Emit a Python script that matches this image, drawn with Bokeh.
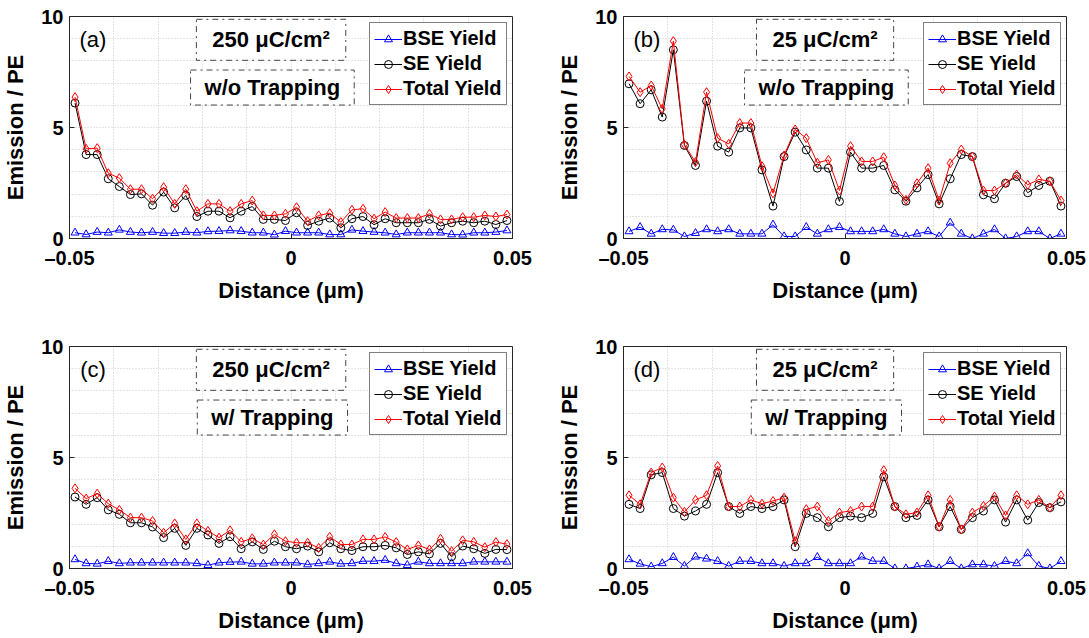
from bokeh.plotting import figure
from bokeh.layouts import gridplot
from bokeh.models import Range1d, FixedTicker, Label, Legend, LegendItem
from bokeh.embed import file_html
from bokeh.resources import INLINE

# ---------------- data ----------------
distance = [-0.04875, -0.04625, -0.04375, -0.04125, -0.03875, -0.03625, -0.03375, -0.03125,
            -0.02875, -0.02625, -0.02375, -0.02125, -0.01875, -0.01625, -0.01375, -0.01125,
            -0.00875, -0.00625, -0.00375, -0.00125, 0.00125, 0.00375, 0.00625, 0.00875,
            0.01125, 0.01375, 0.01625, 0.01875, 0.02125, 0.02375, 0.02625, 0.02875,
            0.03125, 0.03375, 0.03625, 0.03875, 0.04125, 0.04375, 0.04625, 0.04875]

# (a) 250 uC/cm2, w/o trapping
bse_a = [0.26, 0.18, 0.29, 0.26, 0.39, 0.29, 0.26, 0.29, 0.24, 0.24, 0.29, 0.26, 0.32, 0.33,
         0.36, 0.33, 0.26, 0.26, 0.17, 0.33, 0.26, 0.26, 0.26, 0.18, 0.18, 0.39, 0.33, 0.29,
         0.26, 0.18, 0.26, 0.26, 0.26, 0.26, 0.18, 0.17, 0.26, 0.26, 0.29, 0.36]
se_a = [6.10, 3.78, 3.78, 2.69, 2.34, 1.98, 2.01, 1.50, 2.09, 1.38, 1.94, 0.99, 1.23, 1.23,
        0.93, 1.23, 1.44, 0.86, 0.86, 0.81, 1.16, 0.59, 0.78, 0.92, 0.48, 0.89, 0.99, 0.62,
        0.89, 0.71, 0.71, 0.71, 0.86, 0.56, 0.71, 0.78, 0.71, 0.78, 0.63, 0.81]
total_a = [6.37, 4.04, 4.07, 2.94, 2.72, 2.22, 2.22, 1.79, 2.31, 1.56, 2.22, 1.23, 1.56, 1.56,
           1.23, 1.56, 1.71, 1.04, 1.04, 1.11, 1.41, 0.78, 1.04, 1.14, 0.74, 1.29, 1.34, 0.89,
           1.19, 0.92, 0.92, 0.92, 1.11, 0.86, 0.86, 0.96, 0.96, 1.04, 0.99, 1.08]

# (b) 25 uC/cm2, w/o trapping
bse_b = [0.32, 0.51, 0.21, 0.41, 0.39, 0.09, 0.24, 0.41, 0.32, 0.41, 0.21, 0.21, 0.21, 0.62,
         0.09, 0.09, 0.51, 0.21, 0.41, 0.51, 0.32, 0.32, 0.32, 0.41, 0.21, 0.09, 0.21, 0.32,
         0.09, 0.71, 0.21, 0.00, 0.21, 0.41, 0.00, 0.09, 0.32, 0.32, 0.00, 0.21]
se_b = [6.97, 6.07, 6.70, 5.47, 8.50, 4.19, 3.29, 6.19, 4.16, 3.89, 4.98, 4.98, 3.09, 1.46,
        3.69, 4.79, 3.99, 3.17, 3.17, 1.67, 3.89, 3.17, 3.17, 3.29, 2.19, 1.68, 2.28, 2.88,
        1.56, 2.69, 3.78, 3.69, 1.97, 1.79, 2.49, 2.79, 2.06, 2.39, 2.58, 1.46]
total_b = [7.30, 6.59, 6.89, 5.84, 8.89, 4.23, 3.44, 6.59, 4.52, 4.26, 5.20, 5.20, 3.26, 2.04,
           3.74, 4.91, 4.52, 3.41, 3.54, 2.16, 4.16, 3.47, 3.47, 3.66, 2.39, 1.74, 2.49, 3.17,
           1.71, 3.39, 4.01, 3.69, 2.16, 2.16, 2.49, 2.88, 2.42, 2.66, 2.58, 1.71]

# (c) 250 uC/cm2, w/ trapping
bse_c = [0.41, 0.23, 0.21, 0.33, 0.23, 0.26, 0.26, 0.26, 0.26, 0.26, 0.26, 0.23, 0.15, 0.26,
         0.29, 0.30, 0.21, 0.21, 0.26, 0.26, 0.26, 0.18, 0.23, 0.30, 0.21, 0.23, 0.33, 0.33,
         0.38, 0.23, 0.15, 0.30, 0.23, 0.23, 0.23, 0.23, 0.30, 0.30, 0.30, 0.30]
se_c = [3.22, 2.89, 3.19, 2.64, 2.44, 2.06, 2.06, 1.87, 1.39, 1.81, 1.04, 1.81, 1.51, 1.13,
        1.43, 0.89, 1.20, 0.86, 1.23, 0.98, 0.89, 1.01, 0.75, 1.16, 0.89, 0.81, 0.98, 0.98,
        1.04, 0.93, 0.63, 0.75, 0.66, 1.13, 0.53, 1.01, 0.89, 0.68, 0.86, 0.85]
total_c = [3.61, 3.15, 3.37, 2.92, 2.64, 2.29, 2.29, 2.14, 1.61, 2.03, 1.31, 2.03, 1.69, 1.39,
           1.72, 1.20, 1.36, 1.08, 1.54, 1.23, 1.16, 1.16, 0.93, 1.43, 1.08, 1.08, 1.31, 1.31,
           1.42, 1.19, 0.86, 1.04, 0.86, 1.34, 0.78, 1.27, 1.20, 0.96, 1.19, 1.10]

# (d) 25 uC/cm2, w/ trapping
bse_d = [0.41, 0.21, 0.08, 0.23, 0.51, 0.11, 0.53, 0.44, 0.33, 0.11, 0.33, 0.33, 0.23, 0.23,
         0.11, 0.23, 0.23, 0.51, 0.23, 0.23, 0.23, 0.53, 0.33, 0.33, 0.00, 0.00, 0.08, 0.18,
         0.00, 0.33, 0.00, 0.18, 0.18, 0.11, 0.33, 0.23, 0.68, 0.11, 0.00, 0.33]
se_d = [2.89, 2.70, 4.22, 4.32, 2.70, 2.36, 2.59, 2.89, 4.32, 2.79, 2.48, 2.79, 2.70, 2.79,
        3.09, 0.98, 2.48, 2.29, 1.88, 2.29, 2.36, 2.29, 2.48, 4.13, 2.79, 2.29, 2.39, 3.09,
        1.88, 2.79, 1.76, 2.29, 2.59, 3.09, 2.09, 3.09, 2.18, 2.97, 2.74, 3.00]
total_d = [3.30, 2.89, 4.32, 4.55, 3.19, 2.55, 3.09, 3.30, 4.62, 2.79, 2.79, 3.09, 2.92, 3.04,
           3.19, 1.23, 2.67, 2.79, 2.14, 2.52, 2.59, 2.79, 2.79, 4.43, 2.79, 2.44, 2.52, 3.30,
           1.88, 3.09, 1.76, 2.52, 2.82, 3.24, 2.39, 3.30, 2.89, 3.09, 2.74, 3.30]

series_names = ["BSE Yield", "SE Yield", "Total Yield"]
x_ticks = [-0.05, 0, 0.05]
x_tick_labels = {-0.05: "\u20130.05", 0: "0", 0.05: "0.05"}
y_ticks = [0, 5, 10]
x_grid = [-0.05, -0.04, -0.03, -0.02, -0.01, 0, 0.01, 0.02, 0.03, 0.04, 0.05]
y_grid = [0, 1, 2, 3, 4, 5, 6, 7, 8, 9, 10]

FONT = "Liberation Sans"


def make_panel(tag, dose, trap, bse, se, total, width, height, mbl, mbr, mbt, mbb):
    p = figure(width=width, height=height, output_backend="svg", toolbar_location=None,
               x_range=Range1d(-0.05, 0.05), y_range=Range1d(0, 10),
               min_border_left=mbl, min_border_right=mbr, min_border_top=mbt,
               min_border_bottom=mbb, background_fill_color="white",
               border_fill_color="white", outline_line_color="#262626", outline_line_width=1)

    # axes
    p.xaxis.ticker = FixedTicker(ticks=x_ticks)
    p.xaxis.major_label_overrides = x_tick_labels
    p.yaxis.ticker = FixedTicker(ticks=y_ticks)
    p.xaxis.axis_label = "Distance (\u03bcm)"
    p.yaxis.axis_label = "Emission / PE"
    for ax in (p.xaxis[0], p.yaxis[0]):
        ax.axis_label_text_font = FONT
        ax.axis_label_text_font_style = "bold"
        ax.axis_label_text_font_size = "22px"
        ax.axis_label_text_color = "black"
        ax.major_label_text_font = FONT
        ax.major_label_text_font_style = "bold"
        ax.major_label_text_font_size = "20px"
        ax.major_label_text_color = "black"
        ax.major_tick_in = 5
        ax.major_tick_out = 0
        ax.minor_tick_in = 0
        ax.minor_tick_out = 0
        ax.axis_line_color = "#262626"
        ax.major_tick_line_color = "#262626"
    p.xaxis.major_label_standoff = 8
    p.xaxis.axis_label_standoff = 6
    p.yaxis.major_label_standoff = 6
    p.yaxis.axis_label_standoff = 10

    # grid
    p.xgrid.ticker = FixedTicker(ticks=x_grid)
    p.ygrid.ticker = FixedTicker(ticks=y_grid)
    for g in (p.xgrid[0], p.ygrid[0]):
        g.grid_line_color = "#c8c8c8"
        g.grid_line_dash = "1 2"
        g.grid_line_width = 1

    # series
    l1 = p.line(distance, bse, line_color="#0000ff", line_width=1)
    s1 = p.scatter(distance, bse, marker="triangle", size=8, line_color="#0000ff",
                   fill_color=None, line_width=1)
    l2 = p.line(distance, se, line_color="black", line_width=1)
    s2 = p.scatter(distance, se, marker="circle", size=8, line_color="black",
                   fill_color=None, line_width=1)
    l3 = p.line(distance, total, line_color="#ff0000", line_width=1)
    s3 = p.scatter(distance, total, marker="diamond", size=9, line_color="#ff0000",
                   fill_color=None, line_width=1)

    legend = Legend(items=[LegendItem(label=series_names[0], renderers=[l1, s1]),
                           LegendItem(label=series_names[1], renderers=[l2, s2]),
                           LegendItem(label=series_names[2], renderers=[l3, s3])],
                    location=(300, 133), orientation="vertical",
                    label_text_font=FONT, label_text_font_style="bold",
                    label_text_font_size="20px", label_text_color="black",
                    label_height=20, glyph_height=20, glyph_width=28, label_standoff=1,
                    spacing=2, padding=4, margin=0,
                    border_line_color="black", border_line_width=1,
                    background_fill_color="white", background_fill_alpha=1)
    p.add_layout(legend)

    # annotations
    p.add_layout(Label(x=-0.0447, y=8.97, text=tag, text_font=FONT, text_font_size="22px",
                       text_align="center", text_baseline="middle", text_color="black"))
    p.add_layout(Label(x=-0.0045, y=8.95, text=dose, text_font=FONT, text_font_style="bold",
                       text_font_size="22px", text_align="center", text_baseline="middle",
                       text_color="black", border_line_color="#444444",
                       border_line_dash="dashdot", border_line_width=1,
                       background_fill_color="white",
                       padding=dict(left=16, right=16, top=8, bottom=8)))
    p.add_layout(Label(x=-0.0042, y=6.80, text=trap, text_font=FONT, text_font_style="bold",
                       text_font_size="22px", text_align="center", text_baseline="middle",
                       text_color="black", border_line_color="#444444",
                       border_line_dash="dashdot", border_line_width=1,
                       background_fill_color="white",
                       padding=dict(left=14, right=14, top=5, bottom=5)))
    return p


pa = make_panel("(a)", "250 \u03bcC/cm\u00b2", "w/o Trapping", bse_a, se_a, total_a,
                545, 320, 68, 33, 16, 82)
pb = make_panel("(b)", "25 \u03bcC/cm\u00b2", "w/o Trapping", bse_b, se_b, total_b,
                544, 320, 78, 23, 16, 82)
pc = make_panel("(c)", "250 \u03bcC/cm\u00b2", "w/ Trapping", bse_c, se_c, total_c,
                545, 318, 68, 33, 26, 70)
pd = make_panel("(d)", "25 \u03bcC/cm\u00b2", "w/ Trapping", bse_d, se_d, total_d,
                544, 318, 78, 23, 26, 70)

layout = gridplot([[pa, pb], [pc, pd]], toolbar_location=None)

open("out.html", "w").write(file_html(layout, INLINE))
